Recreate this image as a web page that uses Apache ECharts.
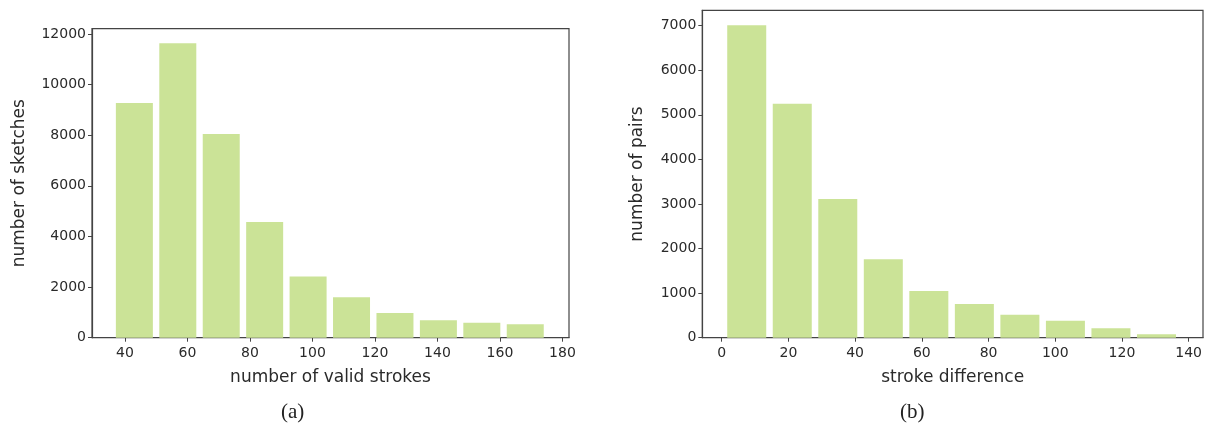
<!DOCTYPE html>
<html>
<head>
<meta charset="utf-8">
<script src="https://cdn.jsdelivr.net/npm/echarts@6/dist/echarts.min.js"></script>
<style>
html,body{margin:0;padding:0;background:#fff;}
#c{width:1206px;height:440px;}
</style>
</head>
<body>
<div id="c"></div>
<script>
// ---- data ----
const leftCenters = [43, 56.9, 70.8, 84.7, 98.6, 112.5, 126.4, 140.3, 154.2, 168.1];
const leftCounts  = [9270, 11640, 8050, 4570, 2420, 1600, 980, 690, 590, 535];
const leftXTicks  = [40, 60, 80, 100, 120, 140, 160, 180];
const leftYTicks  = [0, 2000, 4000, 6000, 8000, 10000, 12000];

const rightCenters = [7.5, 21.15, 34.8, 48.45, 62.1, 75.75, 89.4, 103.05, 116.7, 130.35];
const rightCounts  = [7010, 5250, 3110, 1760, 1050, 755, 515, 380, 210, 80];
const rightXTicks  = [0, 20, 40, 60, 80, 100, 120, 140];
const rightYTicks  = [0, 1000, 2000, 3000, 4000, 5000, 6000, 7000];

const captions = ['(a)', '(b)'];
const axisNames = {
  leftX: 'number of valid strokes', leftY: 'number of sketches',
  rightX: 'stroke difference', rightY: 'number of pairs'
};

// ---- styles ----
const barColor = '#cbe397';
const axisColor = '#444';
const textColor = '#2a2a2a';
const font = 'DejaVu Sans';

function xAxisCfg(gridIndex, min, max, ticks, name) {
  return {
    type: 'value', gridIndex, min, max,
    name, nameLocation: 'middle', nameGap: 31,
    nameTextStyle: {fontFamily: font, fontSize: 17, color: textColor},
    axisLine: {show: true, onZero: false, lineStyle: {color: axisColor, width: 1.2}},
    axisTick: {show: true, length: 4, customValues: ticks, lineStyle: {color: axisColor}},
    axisLabel: {customValues: ticks, fontFamily: font, fontSize: 14, color: textColor, margin: 9,
                formatter: v => String(v)},
    splitLine: {show: false}
  };
}
function yAxisCfg(gridIndex, min, max, ticks, name, gap) {
  return {
    type: 'value', gridIndex, min, max,
    name, nameLocation: 'middle', nameGap: gap,
    nameTextStyle: {fontFamily: font, fontSize: 17, color: textColor},
    axisLine: {show: true, onZero: false, lineStyle: {color: axisColor, width: 1.2}},
    axisTick: {show: true, length: 4, customValues: ticks, lineStyle: {color: axisColor}},
    axisLabel: {customValues: ticks, fontFamily: font, fontSize: 14, color: textColor, margin: 6,
                formatter: v => String(v)},
    splitLine: {show: false}
  };
}

const chart = echarts.init(document.getElementById('c'), null, {renderer: 'canvas'});
chart.setOption({
  backgroundColor: '#fff',
  animation: false,
  grid: [
    {left: 92, right: 637, top: 28.7, bottom: 102.3, show: true, borderColor: axisColor, borderWidth: 1.2, backgroundColor: 'transparent'},
    {left: 702.3, right: 3, top: 10.3, bottom: 102.3, show: true, borderColor: axisColor, borderWidth: 1.2, backgroundColor: 'transparent'}
  ],
  xAxis: [
    xAxisCfg(0, 29.44, 182.1, leftXTicks, axisNames.leftX),
    xAxisCfg(1, -5.82, 144.3, rightXTicks, axisNames.rightX)
  ],
  yAxis: [
    yAxisCfg(0, 0, 12210, leftYTicks, axisNames.leftY, 64),
    yAxisCfg(1, 0, 7345, rightYTicks, axisNames.rightY, 56)
  ],
  series: [
    {type: 'bar', xAxisIndex: 0, yAxisIndex: 0, barWidth: 37,
     itemStyle: {color: barColor}, data: leftCenters.map((c, i) => [c, leftCounts[i]])},
    {type: 'bar', xAxisIndex: 1, yAxisIndex: 1, barWidth: 39,
     itemStyle: {color: barColor}, data: rightCenters.map((c, i) => [c, rightCounts[i]])}
  ],
  graphic: [
    {type: 'text', left: 281, top: 402, style: {text: captions[0], font: '21px "Liberation Serif"', fill: '#222'}},
    {type: 'text', left: 900, top: 402, style: {text: captions[1], font: '21px "Liberation Serif"', fill: '#222'}}
  ]
});
</script>
</body>
</html>
